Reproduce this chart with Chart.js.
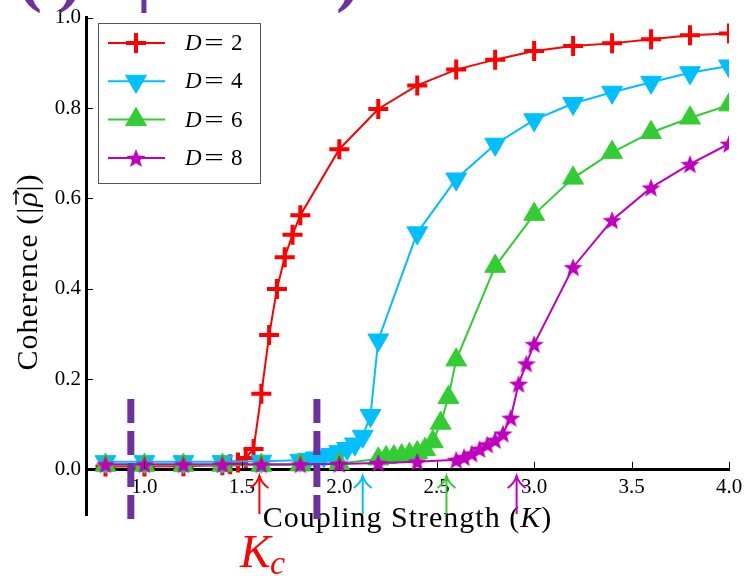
<!DOCTYPE html>
<html>
<head>
<meta charset="utf-8">
<script src="https://cdn.jsdelivr.net/npm/chart.js@4.4.0/dist/chart.umd.min.js"></script>
<style>
  html, body { margin: 0; padding: 0; background: #fff; }
  #wrap { width: 748px; height: 576px; position: relative; }
</style>
</head>
<body>
<div id="wrap"><canvas id="coherenceChart"></canvas></div>
<script>
// Coupling strength K and coherence |rho| for each noise level D
const kD2 = [0.8, 1.0, 1.2, 1.4, 1.44, 1.48, 1.52, 1.56, 1.6, 1.64, 1.68, 1.72, 1.76, 1.8, 2.0, 2.2, 2.4, 2.6, 2.8, 3.0, 3.2, 3.4, 3.6, 3.8, 4.0];
const cohD2 = [0.007, 0.007, 0.008, 0.010, 0.012, 0.016, 0.026, 0.046, 0.168, 0.298, 0.400, 0.470, 0.520, 0.563, 0.709, 0.798, 0.850, 0.885, 0.907, 0.926, 0.937, 0.943, 0.952, 0.961, 0.965];

const kD4 = [0.8, 1.0, 1.2, 1.4, 1.6, 1.8, 1.84, 1.88, 1.92, 1.96, 2.0, 2.04, 2.08, 2.12, 2.16, 2.2, 2.4, 2.6, 2.8, 3.0, 3.2, 3.4, 3.6, 3.8, 4.0];
const cohD4 = [0.018, 0.018, 0.018, 0.018, 0.019, 0.021, 0.023, 0.026, 0.030, 0.034, 0.040, 0.047, 0.057, 0.074, 0.120, 0.287, 0.524, 0.643, 0.720, 0.774, 0.810, 0.835, 0.857, 0.878, 0.893];

const kD6 = [0.8, 1.0, 1.2, 1.4, 1.6, 1.8, 2.0, 2.2, 2.24, 2.28, 2.32, 2.36, 2.4, 2.44, 2.48, 2.52, 2.56, 2.6, 2.8, 3.0, 3.2, 3.4, 3.6, 3.8, 4.0];
const cohD6 = [0.010, 0.010, 0.010, 0.010, 0.010, 0.011, 0.014, 0.024, 0.027, 0.029, 0.031, 0.034, 0.038, 0.045, 0.062, 0.103, 0.160, 0.243, 0.450, 0.565, 0.645, 0.702, 0.746, 0.778, 0.807];

const kD8 = [0.8, 1.0, 1.2, 1.4, 1.6, 1.8, 2.0, 2.2, 2.4, 2.6, 2.64, 2.68, 2.72, 2.76, 2.8, 2.84, 2.88, 2.92, 2.96, 3.0, 3.2, 3.4, 3.6, 3.8, 4.0];
const cohD8 = [0.012, 0.012, 0.012, 0.012, 0.012, 0.012, 0.013, 0.015, 0.018, 0.022, 0.028, 0.036, 0.046, 0.056, 0.066, 0.080, 0.115, 0.190, 0.235, 0.278, 0.448, 0.552, 0.624, 0.676, 0.721];

const noiseLevels = ['2', '4', '6', '8'];
const xTicks = [1.0, 1.5, 2.0, 2.5, 3.0, 3.5, 4.0];
const yTicks = [0.0, 0.2, 0.4, 0.6, 0.8, 1.0];

// Annotations drawn on top of the plot
const dashedK = [0.93, 1.885];
const criticalK = [1.59, 2.12, 2.55, 2.91];

const colors = ['#ff0000', '#00bfff', '#32cd32', '#bf00bf'];
const SERIF = '"Liberation Serif", "Times New Roman", serif';

// Filled five-point star (Chart.js 'star' is only an outline)
function makeStar(color, r) {
  const c = document.createElement('canvas');
  const s = Math.ceil(r * 2 + 4);
  c.width = s;
  c.height = s;
  const g = c.getContext('2d');
  g.translate(s / 2, s / 2 + 1);
  g.beginPath();
  for (let i = 0; i < 10; i++) {
    const rad = i % 2 ? r * 0.42 : r;
    const a = -Math.PI / 2 + i * Math.PI / 5;
    g.lineTo(Math.cos(a) * rad, Math.sin(a) * rad);
  }
  g.closePath();
  g.fillStyle = color;
  g.fill();
  return c;
}
const starImg = makeStar(colors[3], 10);

const toPoints = (ks, vs) => ks.map((k, i) => ({ x: k, y: vs[i] }));

const markers = [
  { pointStyle: 'cross', pointRadius: 10, pointBorderWidth: 4, pointRotation: 0 },
  { pointStyle: 'triangle', pointRadius: 12, pointBorderWidth: 1, pointRotation: 180 },
  { pointStyle: 'triangle', pointRadius: 12, pointBorderWidth: 1, pointRotation: 0 },
  { pointStyle: starImg, pointRadius: 10, pointBorderWidth: 0, pointRotation: 0 }
];

const seriesData = [toPoints(kD2, cohD2), toPoints(kD4, cohD4), toPoints(kD6, cohD6), toPoints(kD8, cohD8)];

const datasets = seriesData.map((pts, i) => ({
  label: 'D=' + noiseLevels[i],
  data: pts,
  borderColor: colors[i],
  backgroundColor: colors[i],
  pointBackgroundColor: colors[i],
  pointBorderColor: colors[i],
  borderWidth: 2,
  pointStyle: markers[i].pointStyle,
  pointRadius: markers[i].pointRadius,
  pointHoverRadius: markers[i].pointRadius,
  pointBorderWidth: markers[i].pointBorderWidth,
  pointRotation: markers[i].pointRotation,
  order: 4 - i,   // later series on top, like matplotlib
  clip: 0
}));

function drawArrow(ctx, x, yTip, yTail, color) {
  ctx.save();
  ctx.strokeStyle = color;
  ctx.lineWidth = 2;
  ctx.beginPath();
  ctx.moveTo(x, yTail);
  ctx.lineTo(x, yTip);
  ctx.stroke();
  ctx.beginPath();
  ctx.moveTo(x - 9, yTip + 12);
  ctx.quadraticCurveTo(x - 2, yTip + 7, x, yTip);
  ctx.quadraticCurveTo(x + 2, yTip + 7, x + 9, yTip + 12);
  ctx.stroke();
  ctx.restore();
}

const decorations = {
  id: 'decorations',
  afterDraw(chart) {
    const { ctx, chartArea, scales } = chart;
    const xs = scales.x, ys = scales.y;
    const y0 = ys.getPixelForValue(0);
    ctx.save();

    // inward tick marks
    ctx.strokeStyle = '#000';
    ctx.lineWidth = 1;
    xTicks.forEach(v => {
      const px = Math.round(xs.getPixelForValue(v)) + 0.5;
      ctx.beginPath();
      ctx.moveTo(px, y0 - 1);
      ctx.lineTo(px, y0 - 8);
      ctx.stroke();
    });
    yTicks.forEach(v => {
      const py = Math.round(ys.getPixelForValue(v)) + 0.5;
      ctx.beginPath();
      ctx.moveTo(chartArea.left + 1, py);
      ctx.lineTo(chartArea.left + 7, py);
      ctx.stroke();
    });

    // x axis title
    ctx.fillStyle = '#000';
    ctx.textBaseline = 'alphabetic';
    ctx.letterSpacing = '1px';
    const partsX = [
      { t: 'Coupling Strength (', f: '30px ' + SERIF },
      { t: 'K', f: 'italic 30px ' + SERIF },
      { t: ')', f: '30px ' + SERIF }
    ];
    let total = 0;
    partsX.forEach(p => { ctx.font = p.f; p.w = ctx.measureText(p.t).width; total += p.w; });
    let cx = (chartArea.left + chartArea.right) / 2 - total / 2;
    partsX.forEach(p => { ctx.font = p.f; ctx.fillText(p.t, cx, 527); cx += p.w; });

    // y axis title, rotated
    ctx.save();
    ctx.translate(37, 272);
    ctx.rotate(-Math.PI / 2);
    const partsY = [
      { t: 'Coherence (|', f: '30px ' + SERIF },
      { t: 'ρ', f: 'italic 30px ' + SERIF, vec: true },
      { t: '|)', f: '30px ' + SERIF }
    ];
    total = 0;
    partsY.forEach(p => { ctx.font = p.f; p.w = ctx.measureText(p.t).width; total += p.w; });
    cx = -total / 2;
    partsY.forEach(p => {
      ctx.font = p.f;
      ctx.fillText(p.t, cx, 0);
      if (p.vec) {
        ctx.lineWidth = 1.5;
        ctx.beginPath();
        ctx.moveTo(cx + 2, -21);
        ctx.lineTo(cx + p.w + 1, -21);
        ctx.moveTo(cx + p.w - 3, -24);
        ctx.lineTo(cx + p.w + 1, -21);
        ctx.lineTo(cx + p.w - 3, -18);
        ctx.stroke();
      }
      cx += p.w;
    });
    ctx.restore();
    ctx.letterSpacing = '0px';

    // legend box
    const lx = 98, ly = 23, lw = 162, lh = 160;
    ctx.fillStyle = '#fff';
    ctx.fillRect(lx, ly, lw, lh);
    ctx.strokeStyle = '#555';
    ctx.lineWidth = 1;
    ctx.strokeRect(lx + 0.5, ly + 0.5, lw, lh);
    chart.data.datasets.forEach((ds, i) => {
      const ry = 43 + i * 38.3;
      ctx.strokeStyle = ds.borderColor;
      ctx.fillStyle = ds.borderColor;
      ctx.lineWidth = 2;
      ctx.beginPath();
      ctx.moveTo(108, ry);
      ctx.lineTo(165, ry);
      ctx.stroke();
      ctx.lineWidth = ds.pointBorderWidth;
      Chart.helpers.drawPoint(ctx, {
        pointStyle: ds.pointStyle,
        rotation: ds.pointRotation,
        radius: ds.pointRadius,
        borderWidth: ds.pointBorderWidth
      }, 136, ry);
      ctx.fillStyle = '#000';
      ctx.textBaseline = 'middle';
      ctx.font = 'italic 23px ' + SERIF;
      ctx.fillText('D', 185, ry + 1);
      ctx.font = '23px ' + SERIF;
      ctx.textAlign = 'center';
      ctx.save();
      ctx.translate(214, ry + 1);
      ctx.scale(1.5, 1);
      ctx.fillText('=', 0, 0);
      ctx.restore();
      ctx.textAlign = 'left';
      ctx.fillText(noiseLevels[i], 231, ry + 1);
    });

    // purple dashed markers
    ctx.strokeStyle = '#7030a0';
    ctx.lineWidth = 7;
    ctx.setLineDash([24, 8]);
    dashedK.forEach(k => {
      const px = xs.getPixelForValue(k);
      ctx.beginPath();
      ctx.moveTo(px, 399);
      ctx.lineTo(px, 519);
      ctx.stroke();
    });
    ctx.setLineDash([]);

    // critical coupling arrows
    criticalK.forEach((k, i) => drawArrow(ctx, xs.getPixelForValue(k), 476, 514, colors[i]));

    // K_c label
    ctx.fillStyle = '#ff0000';
    ctx.textBaseline = 'alphabetic';
    ctx.textAlign = 'left';
    ctx.font = 'italic 46px ' + SERIF;
    ctx.fillText('K', 240, 567);
    ctx.font = 'italic 34px ' + SERIF;
    ctx.fillText('c', 270, 574);

    // clipped purple glyphs at the top edge
    ctx.fillStyle = '#7030a0';
    ctx.font = 'bold 72px ' + SERIF;
    ctx.fillText('(', 18, -2);
    ctx.fillText(')', 58, -2);
    ctx.fillText('|', 136, -2);
    ctx.fillText(')', 336, -2);

    ctx.restore();
  }
};

const ctx = document.getElementById('coherenceChart');
new Chart(ctx, {
  type: 'line',
  data: { datasets: datasets },
  options: {
    responsive: true,
    maintainAspectRatio: false,
    animation: false,
    events: [],
    layout: { padding: { left: 0, top: 9, right: 19, bottom: 61 } },
    plugins: {
      legend: { display: false },
      tooltip: { enabled: false }
    },
    scales: {
      x: {
        type: 'linear',
        min: 0.7,
        max: 4.0,
        position: { y: 0 },
        afterBuildTicks: s => { s.ticks = xTicks.map(v => ({ value: v })); },
        ticks: {
          callback: v => Number(v).toFixed(1),
          font: { family: SERIF, size: 21 },
          color: '#000',
          padding: 5,
          maxRotation: 0,
          autoSkip: false
        },
        grid: { display: false, drawTicks: false },
        border: { display: true, color: '#000', width: 3 }
      },
      y: {
        type: 'linear',
        min: -0.1,
        max: 1.0,
        afterBuildTicks: s => { s.ticks = yTicks.map(v => ({ value: v })); },
        afterFit: s => { s.width = 86; },
        ticks: {
          callback: v => Number(v).toFixed(1),
          font: { family: SERIF, size: 21 },
          color: '#000',
          padding: 5
        },
        grid: { display: false, drawTicks: false },
        border: { display: true, color: '#000', width: 3 }
      }
    }
  },
  plugins: [decorations]
});
</script>
</body>
</html>
